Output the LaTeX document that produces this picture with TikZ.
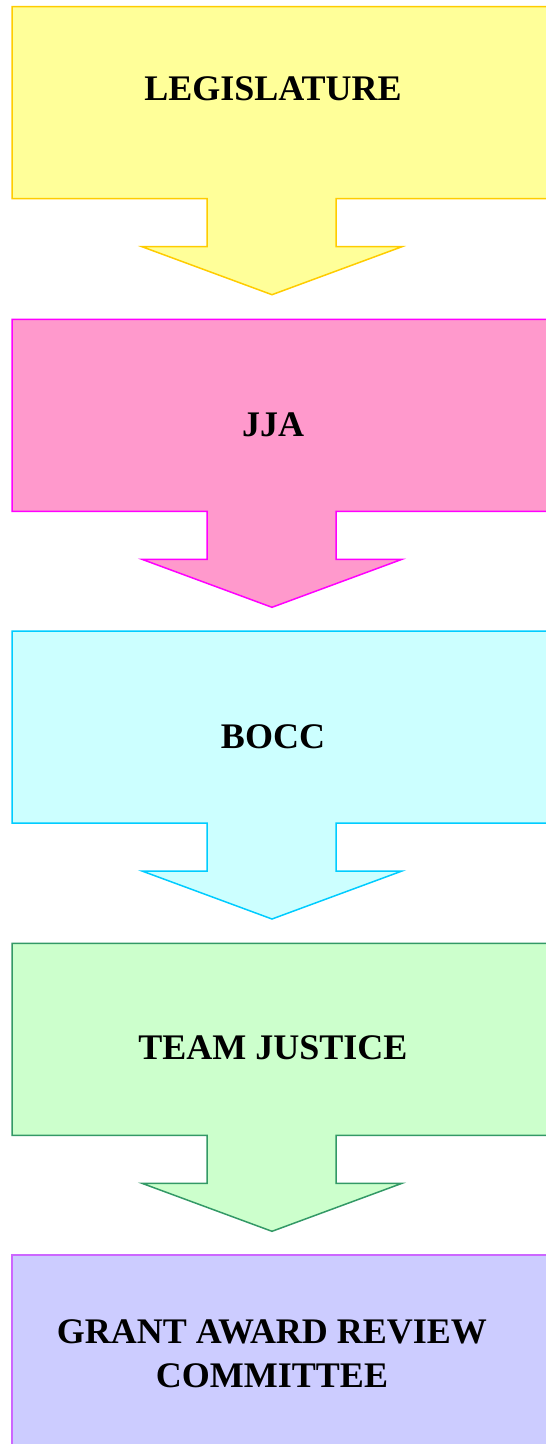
\documentclass[tikz,border=0pt]{standalone}
\usepackage{fontspec}
\setmainfont{Liberation Serif}
\begin{document}
\begin{tikzpicture}[x=1pt,y=-1pt,
  lbl/.style={font=\bfseries\fontsize{36}{44}\selectfont, inner sep=0pt, anchor=base, align=center},
  callout/.style={line width=1.5pt, line join=miter}]
\useasboundingbox (0,0) rectangle (546,1444);
\clip (0,0) rectangle (546,1444);
\newcommand{\callout}[3]{%
  \draw[callout, draw=#2, fill=#3]
    (12,#1) -- (570,#1) -- (570,#1+192) -- (336,#1+192) -- (336,#1+240)
    -- (402,#1+240) -- (272,#1+288) -- (142,#1+240) -- (207,#1+240)
    -- (207,#1+192) -- (12,#1+192) -- cycle;}
\definecolor{yfill}{HTML}{FFFF99}\definecolor{ydraw}{HTML}{FFCC00}
\definecolor{pfill}{HTML}{FF99CC}\definecolor{pdraw}{HTML}{FF00FF}
\definecolor{cfill}{HTML}{CCFFFF}\definecolor{cdraw}{HTML}{00CCFF}
\definecolor{gfill}{HTML}{CCFFCC}\definecolor{gdraw}{HTML}{339966}
\definecolor{lfill}{HTML}{CCCCFF}\definecolor{ldraw}{HTML}{CC66FF}
\callout{6.7}{ydraw}{yfill}
\callout{319.3}{pdraw}{pfill}
\callout{631}{cdraw}{cfill}
\callout{943.3}{gdraw}{gfill}
\draw[callout, draw=ldraw, fill=lfill] (12,1255) rectangle (570,1470);
\node[lbl] (leg) at (273,100) {LEGISLATURE};
\node[lbl] (jja) at (273,436) {JJA};
\node[lbl] (bocc) at (273,748) {BOCC};
\node[lbl] (tj) at (273,1059) {TEAM JUSTICE};
\node[lbl] (garc) at (272,1387) {GRANT AWARD REVIEW\\COMMITTEE};
\end{tikzpicture}
\end{document}
